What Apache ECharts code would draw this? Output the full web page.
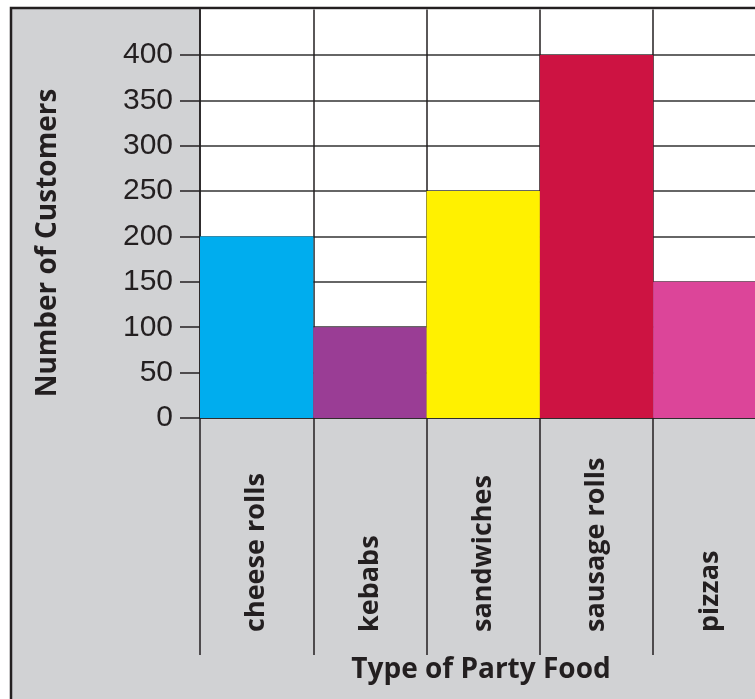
<!DOCTYPE html>
<html><head><meta charset="utf-8">
<script src="https://cdn.jsdelivr.net/npm/echarts@6/dist/echarts.min.js"></script>
<style>html,body{margin:0;padding:0;background:#fff}#c{width:755px;height:699px}</style>
</head><body><div id="c"></div>
<script>
const categories = ['cheese rolls', 'kebabs', 'sandwiches', 'sausage rolls', 'pizzas'];
const customers = [200, 100, 250, 400, 150];
const barColors = ['#00adee', '#9a3d95', '#fff100', '#cd1342', '#dc4599'];
const yTicks = [0, 50, 100, 150, 200, 250, 300, 350, 400];
const yAxisTitle = 'Number of Customers';
const xAxisTitle = 'Type of Party Food';

const ink = '#231f20';
const chart = echarts.init(document.getElementById('c'));
chart.setOption({
  backgroundColor: '#ffffff',
  animation: false,
  graphic: [
    { type: 'rect', z: -10, shape: { x: 11, y: 8, width: 820, height: 820 },
      style: { fill: '#d1d2d4', stroke: ink, lineWidth: 2.5 } },
    { type: 'text', z: 10, x: 48, y: 243, rotation: Math.PI / 2,
      style: { text: yAxisTitle, font: 'bold 28px "Open Sans"', fill: ink, align: 'center', verticalAlign: 'middle' } },
    { type: 'text', z: 10, x: 481, y: 670,
      style: { text: xAxisTitle, font: 'bold 28px "Open Sans"', fill: ink, align: 'center', verticalAlign: 'middle' } }
  ],
  grid: { left: 200, top: 9.6, width: 566.5, height: 408.4, outerBoundsMode: 'none', containLabel: false,
    show: true, backgroundColor: '#ffffff', borderWidth: 0 },
  xAxis: {
    type: 'category', data: categories, boundaryGap: true,
    axisLine: { show: true, lineStyle: { color: ink, width: 1.5 } },
    axisTick: { show: true, interval: 0, length: 237, lineStyle: { color: ink, width: 1.5 } },
    splitLine: { show: true, interval: 0, lineStyle: { color: ink, width: 1.5 } },
    axisLabel: { interval: 0, rotate: 90, align: 'left', verticalAlign: 'middle', margin: 214,
      fontFamily: 'Open Sans', fontWeight: 'bold', fontSize: 27, color: ink }
  },
  yAxis: {
    type: 'value', min: 0, max: 450, interval: 50,
    axisLine: { show: true, lineStyle: { color: ink, width: 1.5 } },
    axisTick: { show: true, length: 20, customValues: yTicks, lineStyle: { color: ink, width: 1.5 } },
    splitLine: { show: true, lineStyle: { color: '#333333', width: 1.5 } },
    axisLabel: { margin: 27, fontFamily: 'Liberation Sans', fontSize: 30, color: ink, customValues: yTicks }
  },
  series: [{
    type: 'bar', data: customers.map((v, i) => ({ value: v, itemStyle: { color: barColors[i] } })),
    barWidth: '100%', barCategoryGap: 0
  }]
});
</script></body></html>
